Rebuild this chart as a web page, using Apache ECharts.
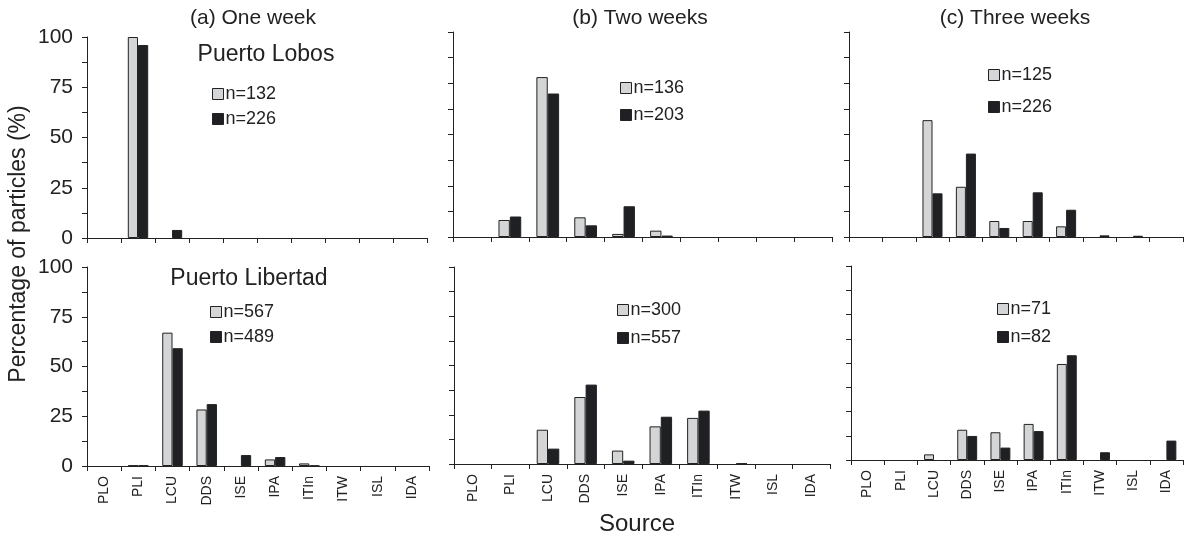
<!DOCTYPE html>
<html>
<head>
<meta charset="utf-8">
<script src="https://cdn.jsdelivr.net/npm/echarts@6/dist/echarts.min.js"></script>
<style>
    html, body { margin: 0; padding: 0; background: #fff; }
    #chart { width: 1184px; height: 539px; }
</style>
</head>
<body>
<div id="chart"></div>
<script>
// source regions on the x axis
const sources = ['PLO', 'PLI', 'LCU', 'DDS', 'ISE', 'IPA', 'ITIn', 'ITW', 'ISL', 'IDA'];
const yTickLabels = [0, 25, 50, 75, 100];

const weekTitles = ['(a) One week', '(b) Two weeks', '(c) Three weeks'];
const siteNames = ['Puerto Lobos', 'Puerto Libertad'];

// Puerto Lobos (top row), % of particles per source
const lobosOneWeekN = ['n=132', 'n=226'];
const lobosOneWeekGray = [0, 100, 0, 0, 0, 0, 0, 0, 0, 0];
const lobosOneWeekBlack = [0, 96, 4, 0, 0, 0, 0, 0, 0, 0];

const lobosTwoWeeksN = ['n=136', 'n=203'];
const lobosTwoWeeksGray = [0, 8.3, 78, 9.6, 1.5, 3.1, 0, 0, 0, 0];
const lobosTwoWeeksBlack = [0, 10, 70, 5.7, 15, 0.7, 0, 0, 0, 0];

const lobosThreeWeeksN = ['n=125', 'n=226'];
const lobosThreeWeeksGray = [0, 0, 57, 24.5, 7.8, 7.8, 5.2, 0, 0, 0];
const lobosThreeWeeksBlack = [0, 0, 21.3, 40.7, 4.4, 21.8, 13.3, 0.8, 0.6, 0];

// Puerto Libertad (bottom row)
const libertadOneWeekN = ['n=567', 'n=489'];
const libertadOneWeekGray = [0, 0.3, 67, 28.4, 0, 3.3, 1.3, 0, 0, 0];
const libertadOneWeekBlack = [0, 0.3, 59.2, 31.1, 5.5, 4.5, 0.2, 0, 0, 0];

const libertadTwoWeeksN = ['n=300', 'n=557'];
const libertadTwoWeeksGray = [0, 0, 17.4, 34, 6.8, 19.1, 23.4, 0, 0, 0];
const libertadTwoWeeksBlack = [0, 0, 7.8, 40.3, 1.7, 24, 27.1, 0.3, 0, 0];

const libertadThreeWeeksN = ['n=71', 'n=82'];
const libertadThreeWeeksGray = [0, 0, 2.9, 15.6, 14.3, 18.6, 49.5, 0, 0, 0];
const libertadThreeWeeksBlack = [0, 0, 0, 12.4, 6.4, 14.9, 54, 4, 0, 10];

const FONT = '"Liberation Sans", Arial, sans-serif';
const INK = '#222';
const GRAY = '#d3d5d7';
const BLACK = '#1f2023';

const panels = [
    {grid: {left: 87, top: 37, width: 340, height: 201}, names: lobosOneWeekN,
        data: [lobosOneWeekGray, lobosOneWeekBlack], legend: {left: 212, top: 85, itemGap: 7}, yLabels: true, xLabels: false},
    {grid: {left: 453, top: 32, width: 379, height: 205}, names: lobosTwoWeeksN,
        data: [lobosTwoWeeksGray, lobosTwoWeeksBlack], legend: {left: 620, top: 79, itemGap: 9}, yLabels: false, xLabels: false},
    {grid: {left: 849, top: 32, width: 334, height: 205}, names: lobosThreeWeeksN,
        data: [lobosThreeWeeksGray, lobosThreeWeeksBlack], legend: {left: 988, top: 66, itemGap: 14}, yLabels: false, xLabels: false},
    {grid: {left: 87, top: 267, width: 342, height: 199}, names: libertadOneWeekN,
        data: [libertadOneWeekGray, libertadOneWeekBlack], legend: {left: 210, top: 303, itemGap: 7}, yLabels: true, xLabels: true},
    {grid: {left: 454, top: 267, width: 376, height: 197}, names: libertadTwoWeeksN,
        data: [libertadTwoWeeksGray, libertadTwoWeeksBlack], legend: {left: 617, top: 301, itemGap: 10}, yLabels: false, xLabels: true},
    {grid: {left: 851, top: 266, width: 332, height: 194}, names: libertadThreeWeeksN,
        data: [libertadThreeWeeksGray, libertadThreeWeeksBlack], legend: {left: 997, top: 300, itemGap: 10}, yLabels: false, xLabels: true},
];

const grids = [], xAxes = [], yAxes = [], legends = [], series = [];

panels.forEach((p, i) => {
    grids.push(Object.assign({outerBoundsMode: 'none', containLabel: false}, p.grid));

    xAxes.push({
        type: 'category', gridIndex: i, data: sources,
        axisLine: {show: true, lineStyle: {color: INK, width: 1}},
        axisTick: {show: true, length: 5, lineStyle: {color: INK}},
        axisLabel: {show: p.xLabels, rotate: 90, interval: 0, margin: 10, fontSize: 14, color: INK, fontFamily: FONT},
        splitLine: {show: false},
    });

    yAxes.push({
        type: 'value', gridIndex: i, min: 0, max: 100, interval: 12.5,
        axisLine: {show: true, lineStyle: {color: INK, width: 1}},
        axisTick: {show: true, length: 5, lineStyle: {color: INK}},
        axisLabel: {
            show: p.yLabels, margin: 14, fontSize: 21, color: INK, fontFamily: FONT,
            formatter: v => yTickLabels.includes(v) ? String(v) : '',
        },
        splitLine: {show: false},
    });

    legends.push({
        data: p.names, orient: 'vertical', left: p.legend.left, top: p.legend.top,
        itemGap: p.legend.itemGap, itemWidth: 11, itemHeight: 11, padding: 0,
        icon: 'rect', selectedMode: false,
        itemStyle: {borderColor: INK, borderWidth: 1},
        textStyle: {fontSize: 18, color: INK, fontFamily: FONT, padding: [0, 0, 0, -3]},
    });

    p.data.forEach((values, k) => {
        series.push({
            type: 'bar', name: p.names[k], xAxisIndex: i, yAxisIndex: i,
            // empty sources get no outline so nothing shows on the axis
            data: values.map(v => v > 0 ? v : {value: v, itemStyle: {borderWidth: 0, opacity: 0}}),
            barWidth: '30%', barGap: '0%',
            itemStyle: {color: k === 0 ? GRAY : BLACK, borderColor: INK, borderWidth: 1},
            silent: true,
        });
    });
});

const textEl = (text, x, y, size, rotation) => ({
    type: 'text', x: x, y: y, rotation: rotation || 0, silent: true,
    style: {text: text, font: `${size}px ${FONT}`, fill: INK, textAlign: 'center', textVerticalAlign: 'middle'},
});

const chart = echarts.init(document.getElementById('chart'));
chart.setOption({
    animation: false,
    grid: grids,
    xAxis: xAxes,
    yAxis: yAxes,
    legend: legends,
    series: series,
    graphic: [
        textEl(weekTitles[0], 253, 18, 21),
        textEl(weekTitles[1], 640, 18, 21),
        textEl(weekTitles[2], 1015, 18, 21),
        textEl(siteNames[0], 266, 55, 23),
        textEl(siteNames[1], 249, 279, 23),
        textEl('Source', 637, 524, 24),
        textEl('Percentage of particles (%)', 19, 244, 23, Math.PI / 2),
    ],
});
</script>
</body>
</html>
